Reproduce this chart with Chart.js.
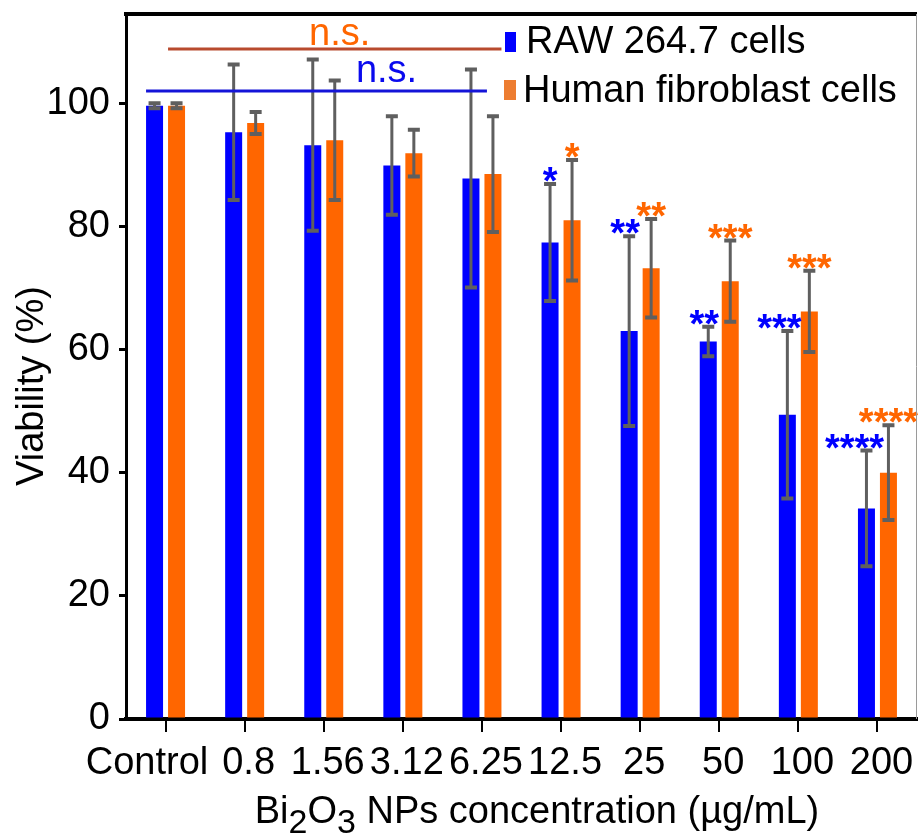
<!DOCTYPE html>
<html>
<head>
<meta charset="utf-8">
<script src="https://cdn.jsdelivr.net/npm/chart.js@4"></script>
<style>
html,body{margin:0;padding:0;background:#fff;}
#wrap{width:919px;height:835px;}
</style>
</head>
<body>
<div id="wrap"><canvas id="c" width="919" height="835"></canvas></div>
<script>
const categories = ['Control','0.8','1.56','3.12','6.25','12.5','25','50','100','200'];
const rawValues = [99.6, 95.3, 93.2, 89.9, 87.8, 77.4, 63.0, 61.3, 49.4, 34.2];
const rawErrors = [0.4, 11.0, 13.9, 8.0, 17.7, 9.5, 15.4, 2.4, 13.6, 9.4];
const fibValues = [99.6, 96.8, 94.0, 91.9, 88.5, 81.0, 73.2, 71.1, 66.2, 40.0];
const fibErrors = [0.4, 1.8, 9.7, 3.8, 9.4, 9.8, 8.0, 6.6, 6.6, 7.7];
const rawStars = ['', '', '', '', '', '*', '**', '**', '***', '****'];
const fibStars = ['', '', '', '', '', '*', '**', '***', '***', '****'];
const seriesNames = ['RAW 264.7 cells', 'Human fibroblast cells'];
const nsLevels = [102, 108.8];
const yMin = 0, yMax = 114.5, yStep = 20;

const FONT = "'Liberation Sans', Arial, sans-serif";
const BLUE = '#0000ff', ORANGE = '#ff6600';

const overlay = {
  id: 'overlay',
  afterDatasetsDraw(chart) {
    const ctx = chart.ctx, ys = chart.scales.y, xs = chart.scales.x, ca = chart.chartArea;
    const sets = [
      {vals: rawValues, errs: rawErrors, stars: rawStars, color: BLUE, shift: -4},
      {vals: fibValues, errs: fibErrors, stars: fibStars, color: ORANGE, shift: 0}
    ];
    ctx.save();
    sets.forEach((s, di) => {
      const meta = chart.getDatasetMeta(di);
      meta.data.forEach((bar, i) => {
        const x = bar.x;
        const yt = ys.getPixelForValue(s.vals[i] + s.errs[i]);
        const yb = ys.getPixelForValue(s.vals[i] - s.errs[i]);
        ctx.strokeStyle = '#5f5f5f';
        ctx.lineWidth = 3;
        ctx.beginPath(); ctx.moveTo(x, yt); ctx.lineTo(x, yb); ctx.stroke();
        ctx.lineWidth = 4;
        ctx.beginPath(); ctx.moveTo(x - 6, yt); ctx.lineTo(x + 6, yt);
        ctx.moveTo(x - 6, yb); ctx.lineTo(x + 6, yb); ctx.stroke();
        const st = s.stars[i];
        if (st) {
          ctx.fillStyle = s.color;
          ctx.font = 'bold 38px ' + FONT;
          ctx.textAlign = 'center';
          ctx.textBaseline = 'alphabetic';
          ctx.fillText(st, x + s.shift * (st.length - 1), yt + 10);
        }
      });
    });
    // n.s. lines
    const m0 = chart.getDatasetMeta(0).data, m1 = chart.getDatasetMeta(1).data;
    const bw = m0[0].width;
    const yo = ys.getPixelForValue(nsLevels[1]);
    const ox0 = m1[0].x - bw / 2, ox1 = m1[4].x + bw / 2;
    ctx.strokeStyle = '#b84a2e'; ctx.lineWidth = 3;
    ctx.beginPath(); ctx.moveTo(ox0, yo); ctx.lineTo(ox1, yo); ctx.stroke();
    ctx.font = '38px ' + FONT; ctx.textAlign = 'center'; ctx.textBaseline = 'alphabetic';
    ctx.fillStyle = ORANGE;
    ctx.fillText('n.s.', (ox0 + ox1) / 2 + 5, yo - 4);
    const yb2 = ys.getPixelForValue(nsLevels[0]);
    const bx0 = m0[0].x - bw / 2, bx1 = m1[4].x - 6;
    ctx.strokeStyle = '#1414d8'; ctx.lineWidth = 3;
    ctx.beginPath(); ctx.moveTo(bx0, yb2); ctx.lineTo(bx1, yb2); ctx.stroke();
    ctx.fillStyle = '#0a0aee';
    ctx.fillText('n.s.', (bx0 + bx1) / 2 + 70, yb2 - 9);

    // legend
    ctx.textAlign = 'left';
    ctx.fillStyle = BLUE; ctx.fillRect(ca.left + 379, ca.top + 18, 11, 20);
    ctx.fillStyle = '#ed7d31'; ctx.fillRect(ca.left + 378, ca.top + 66, 12, 20);
    ctx.fillStyle = '#000';
    ctx.font = '38px ' + FONT;
    ctx.fillText(seriesNames[0], ca.left + 400, ca.top + 39);
    ctx.fillText(seriesNames[1], ca.left + 397, ca.top + 88);

    // frame
    ctx.strokeStyle = '#000'; ctx.lineWidth = 4;
    ctx.beginPath(); ctx.moveTo(ca.left - 2, ca.top); ctx.lineTo(ca.right, ca.top); ctx.stroke();
    ctx.strokeStyle = '#9a9a9a'; ctx.lineWidth = 1;
    ctx.beginPath(); ctx.moveTo(ca.right - 0.5, ca.top); ctx.lineTo(ca.right - 0.5, ca.bottom); ctx.stroke();

    // x tick labels (centred on ticks, pushed left only when they would overlap)
    ctx.fillStyle = '#000';
    ctx.font = '38px ' + FONT;
    ctx.textAlign = 'left';
    const n = categories.length;
    const w = categories.map(t => ctx.measureText(t).width);
    const lefts = categories.map((t, i) => xs.getPixelForTick(i) + 4 - w[i] / 2);
    for (let i = n - 2; i >= 0; i--) {
      if (lefts[i] + w[i] > lefts[i + 1]) lefts[i] = lefts[i + 1] - 14 - w[i];
    }
    categories.forEach((t, i) => ctx.fillText(t, lefts[i], ca.bottom + 55));

    // axis titles
    ctx.save();
    ctx.translate(43, 386);
    ctx.rotate(-Math.PI / 2);
    ctx.textAlign = 'center';
    ctx.fillText('Viability (%)', 0, 0);
    ctx.restore();

    const parts = [['Bi', 0], ['2', 1], ['O', 0], ['3', 1], [' NPs concentration (\u00b5g/mL)', 0]];
    let total = 0;
    parts.forEach(p => { ctx.font = (p[1] ? '34px ' : '38px ') + FONT; total += ctx.measureText(p[0]).width; });
    let tx = 537 - total / 2;
    const base = 823;
    ctx.textAlign = 'left';
    parts.forEach(p => {
      ctx.font = (p[1] ? '34px ' : '38px ') + FONT;
      ctx.fillText(p[0], tx, base + (p[1] ? 10 : 0));
      tx += ctx.measureText(p[0]).width;
    });
    ctx.restore();
  }
};

new Chart(document.getElementById('c'), {
  type: 'bar',
  data: {
    labels: categories,
    datasets: [
      {label: seriesNames[0], data: rawValues, backgroundColor: BLUE, categoryPercentage: 0.556, barPercentage: 0.773},
      {label: seriesNames[1], data: fibValues, backgroundColor: ORANGE, categoryPercentage: 0.556, barPercentage: 0.773}
    ]
  },
  options: {
    responsive: false,
    animation: false,
    devicePixelRatio: 1,
    layout: {padding: {top: 14, right: 2, left: 0, bottom: 0}},
    plugins: {legend: {display: false}, tooltip: {enabled: false}},
    scales: {
      x: {
        grid: {display: true, offset: false, drawOnChartArea: false, drawTicks: true, tickLength: 13, color: '#000', lineWidth: 2},
        border: {display: true, color: '#000', width: 4},
        ticks: {display: false},
        afterFit(s) { s.height = 116; s.paddingLeft = 0; s.paddingRight = 0; }
      },
      y: {
        min: yMin, max: yMax,
        grid: {display: true, drawOnChartArea: false, drawTicks: true, tickLength: 7, color: '#000', lineWidth: 3},
        border: {display: true, color: '#000', width: 3},
        ticks: {stepSize: yStep, includeBounds: false, color: '#000', font: {family: FONT, size: 38}, padding: 9},
        afterFit(s) { s.width = 126; s.paddingTop = 0; s.paddingBottom = 0; }
      }
    }
  },
  plugins: [overlay]
});
</script>
</body>
</html>
